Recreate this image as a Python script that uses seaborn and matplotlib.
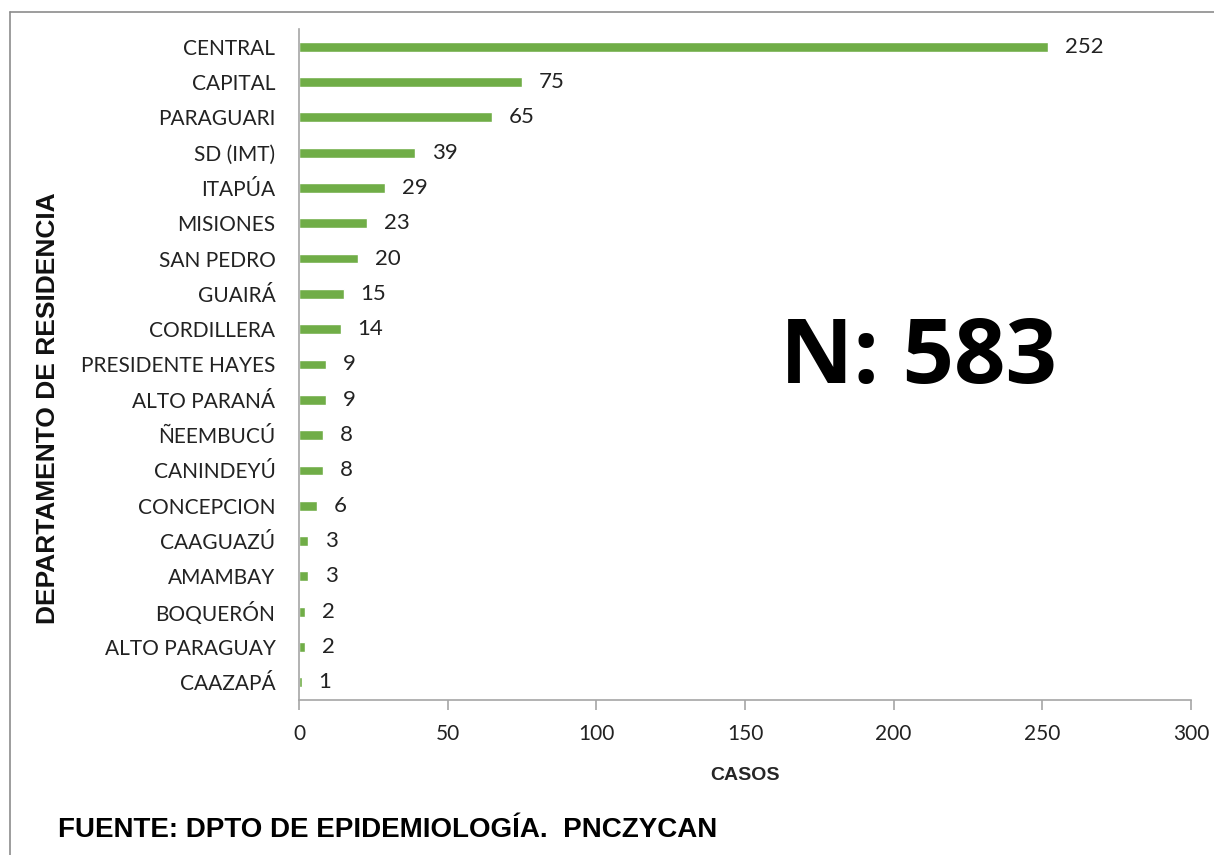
import matplotlib
matplotlib.use("Agg")
import matplotlib.pyplot as plt
import seaborn as sns
import pandas as pd

deptos = ["CENTRAL", "CAPITAL", "PARAGUARI", "SD (IMT)", "ITAPÚA", "MISIONES",
          "SAN PEDRO", "GUAIRÁ", "CORDILLERA", "PRESIDENTE HAYES", "ALTO PARANÁ",
          "ÑEEMBUCÚ", "CANINDEYÚ", "CONCEPCION", "CAAGUAZÚ", "AMAMBAY",
          "BOQUERÓN", "ALTO PARAGUAY", "CAAZAPÁ"]
casos = [252, 75, 65, 39, 29, 23, 20, 15, 14, 9, 9, 8, 8, 6, 3, 3, 2, 2, 1]
xticks = [0, 50, 100, 150, 200, 250, 300]

df = pd.DataFrame({"depto": deptos, "casos": casos})

sns.set_style("white")
plt.rcParams["font.family"] = ["Lato", "DejaVu Sans"]

fig = plt.figure(figsize=(12.14, 8.55), dpi=100)
ax = fig.add_axes([299 / 1214, 1 - 700 / 855, (1191 - 299) / 1214, (700 - 29) / 855])

sns.barplot(data=df, x="casos", y="depto", color="#70AD47", width=0.28,
            saturation=1, ax=ax, orient="h")

ax.bar_label(ax.containers[0], labels=[str(v) for v in casos], padding=12,
             fontsize=16, color="#222222")

ax.set_xlim(0, 300)
ax.set_xticks(xticks)
ax.set_ylim(len(deptos) - 0.5, -0.5)

for s in ["top", "right"]:
    ax.spines[s].set_visible(False)
for s in ["left", "bottom"]:
    ax.spines[s].set_color("#A6A6A6")
    ax.spines[s].set_linewidth(1.2)

ax.tick_params(axis="x", length=7, width=1.2, color="#A6A6A6", direction="out",
               labelsize=15, labelcolor="#222222", pad=10, bottom=True)
ax.tick_params(axis="y", length=0, labelsize=15, labelcolor="#222222", pad=17)

ax.set_xlabel("CASOS", fontsize=14, fontweight="bold", family="Liberation Sans",
              labelpad=17)
ax.set_ylabel("")

fig.text(48 / 1214, 1 - 408 / 855, "DEPARTAMENTO DE RESIDENCIA", rotation=90,
         ha="center", va="center", fontsize=19, fontweight="bold",
         family="Liberation Sans", color="#111111")

fig.text(919 / 1214, 1 - 360 / 855, "N: 583", ha="center", va="center",
         fontsize=65, fontweight="bold", family="Open Sans", color="black")

fig.text(58 / 1214, 1 - 830 / 855, "FUENTE: DPTO DE EPIDEMIOLOGÍA.  PNCZYCAN",
         ha="left", va="center", fontsize=20, fontweight="bold",
         family="Liberation Sans", color="black")

# marco gris
fig.add_artist(plt.Line2D([10 / 1214, 1], [1 - 12 / 855, 1 - 12 / 855],
                          color="#8C8C8C", lw=1.2, transform=fig.transFigure))
fig.add_artist(plt.Line2D([10 / 1214, 10 / 1214], [0, 1 - 12 / 855],
                          color="#8C8C8C", lw=1.2, transform=fig.transFigure))

fig.savefig("out.png", dpi=100, facecolor="white")
